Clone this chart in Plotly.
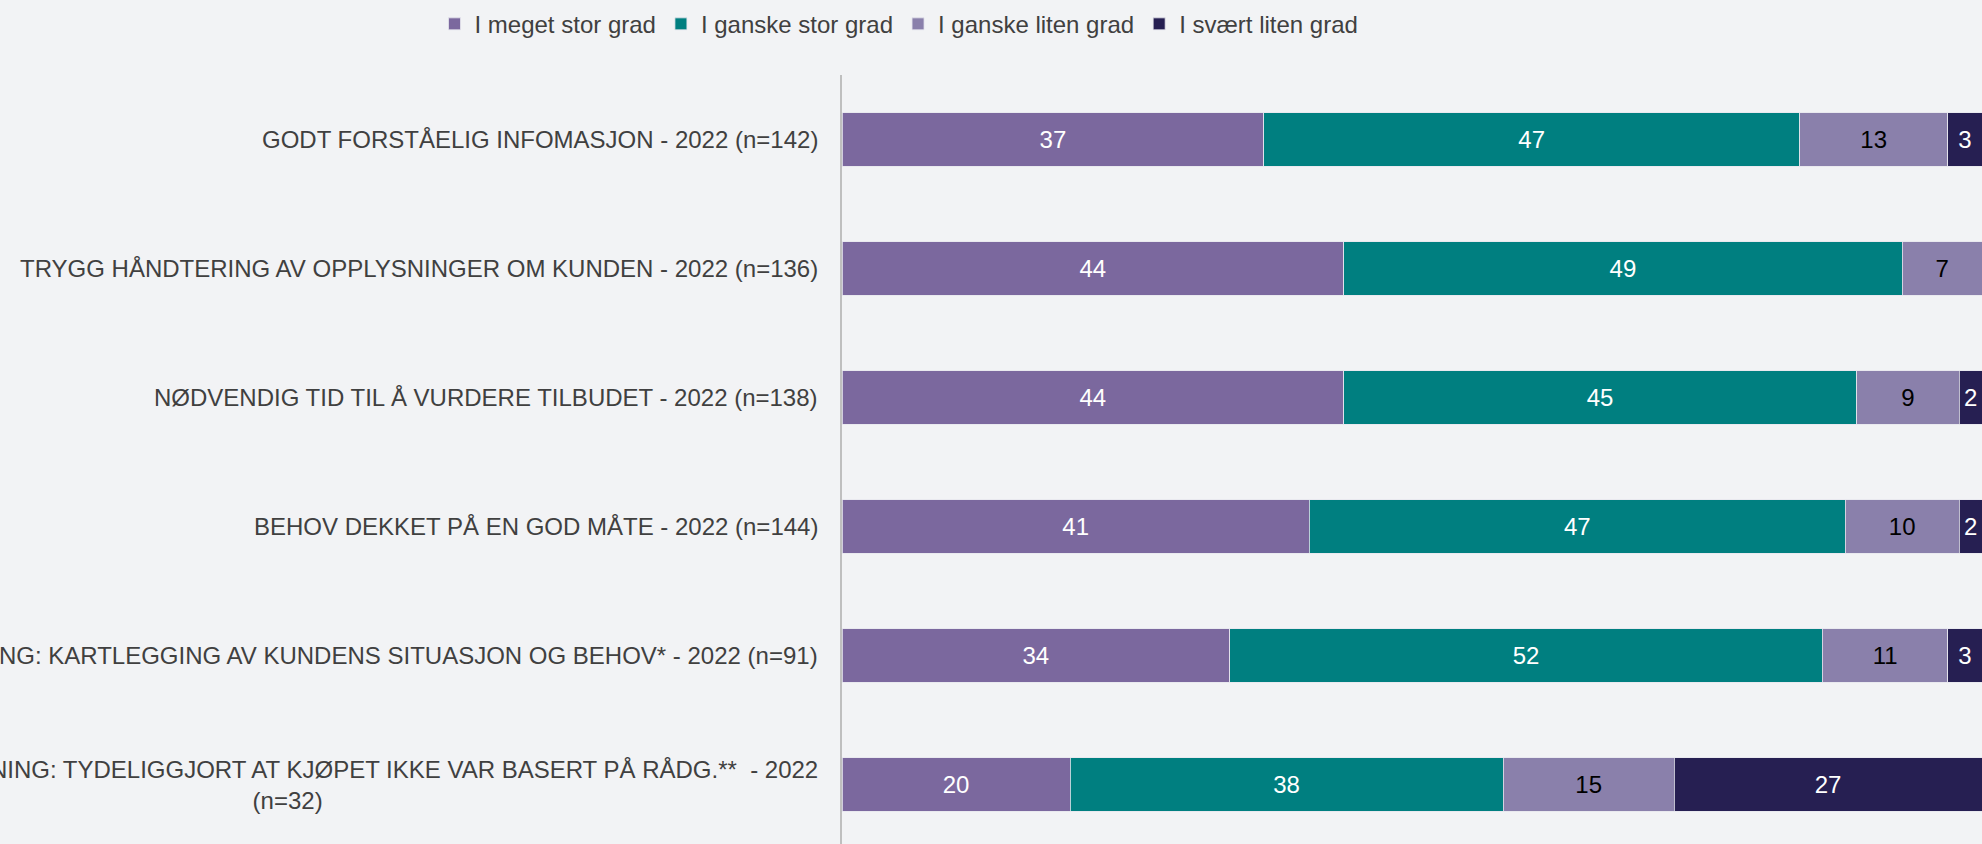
import plotly.graph_objects as go

categories = [
    "GODT FORSTÅELIG INFOMASJON - 2022 (n=142)",
    "TRYGG HÅNDTERING AV OPPLYSNINGER OM KUNDEN - 2022 (n=136)",
    "NØDVENDIG TID TIL Å VURDERE TILBUDET - 2022 (n=138)",
    "BEHOV DEKKET PÅ EN GOD MÅTE - 2022 (n=144)",
    "KJØP MED RÅDGIVNING: KARTLEGGING AV KUNDENS SITUASJON OG BEHOV* - 2022 (n=91)",
    "KJØP UTEN RÅDGIVNING: TYDELIGGJORT AT KJØPET IKKE VAR BASERT PÅ RÅDG.**  - 2022<br>(n=32)",
]
series_names = ["I meget stor grad", "I ganske stor grad", "I ganske liten grad", "I svært liten grad"]
meget_stor = [37, 44, 44, 41, 34, 20]
ganske_stor = [47, 49, 45, 47, 52, 38]
ganske_liten = [13, 7, 9, 10, 11, 15]
svaert_liten = [3, 0, 2, 2, 3, 27]

series_values = [meget_stor, ganske_stor, ganske_liten, svaert_liten]
colors = ["#7B689E", "#007F80", "#8A80AB", "#261F52"]
text_colors = ["#FFFFFF", "#FFFFFF", "#000000", "#FFFFFF"]

ypos = list(range(len(categories)))

fig = go.Figure()
for name, vals, col, tcol in zip(series_names, series_values, colors, text_colors):
    fig.add_trace(go.Bar(
        y=ypos, x=vals, name=name, orientation="h",
        marker=dict(color=col, line=dict(color="#E6E6EE", width=0.8)),
        text=[str(v) if v > 0 else "" for v in vals],
        textposition="inside", insidetextanchor="middle", textangle=0,
        constraintext="none",
        insidetextfont=dict(family="Liberation Sans, Arial", size=24, color=tcol),
        hoverinfo="skip",
    ))

for i, cat in enumerate(categories):
    fig.add_annotation(
        x=-0.0193, xref="paper", y=i, yref="y", text=cat,
        xanchor="right", yanchor="middle", align="center", showarrow=False,
        font=dict(family="Liberation Sans, Arial", size=24, color="#404040"),
    )

fig.update_layout(
    width=1982, height=844,
    barmode="stack", bargap=0.586,
    paper_bgcolor="#F2F3F5", plot_bgcolor="#F2F3F5",
    margin=dict(l=842, r=0, t=75, b=0, autoexpand=False),
    font=dict(family="Liberation Sans, Arial", size=24, color="#404040"),
    showlegend=True,
    legend=dict(orientation="h", x=0.05, xanchor="center", y=1.066, yanchor="middle",
                bgcolor="rgba(0,0,0,0)", font=dict(size=24, color="#404040"),
                traceorder="normal", itemwidth=30),
    xaxis=dict(range=[0, 100], visible=False, showgrid=False, zeroline=False),
    yaxis=dict(range=[5.46, -0.5], showticklabels=False, showgrid=False, zeroline=False,
               showline=True, linecolor="#BFBFBF", linewidth=1.5, ticks=""),
)

fig.write_html(
    "out.html",
    config={"displayModeBar": False},
    post_script="document.body.style.margin='0';document.body.style.overflow='hidden';document.body.style.background='#F2F3F5';",
)
